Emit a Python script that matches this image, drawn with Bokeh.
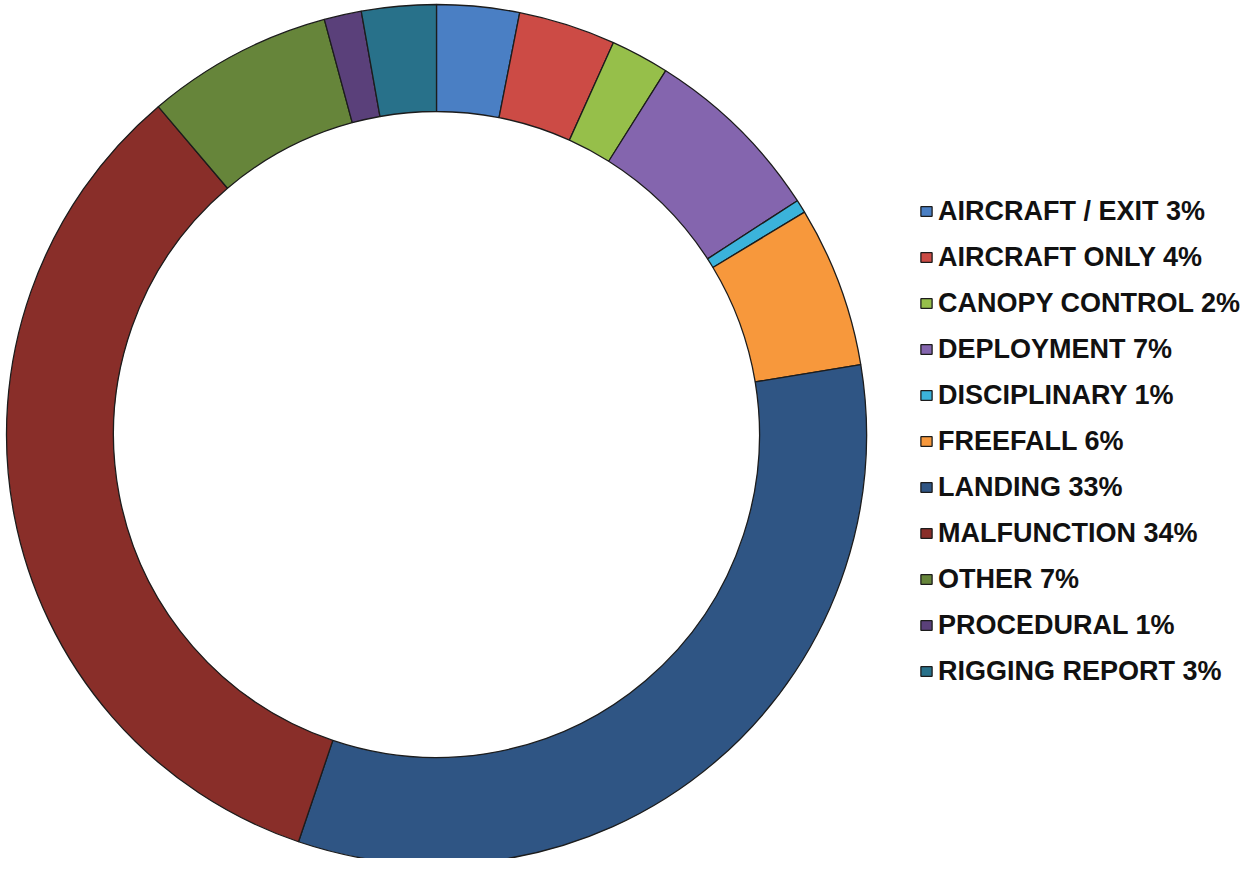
import numpy as np
from bokeh.plotting import figure
from bokeh.models import Range1d, ColumnDataSource, Legend, LegendItem
from bokeh.embed import file_html
from bokeh.resources import INLINE

# ---- data (share of incidents, clockwise from 12 o'clock) ----
categories = ["AIRCRAFT / EXIT", "AIRCRAFT ONLY", "CANOPY CONTROL", "DEPLOYMENT",
              "DISCIPLINARY", "FREEFALL", "LANDING", "MALFUNCTION", "OTHER",
              "PROCEDURAL", "RIGGING REPORT"]
values = [3.1, 3.65, 2.2, 6.9, 0.5, 6.05, 32.8, 33.6, 7.0, 1.4, 2.8]
pct_labels = ["3%", "4%", "2%", "7%", "1%", "6%", "33%", "34%", "7%", "1%", "3%"]
colors = ["#4a7fc4", "#cc4b45", "#96bf4a", "#8465ae", "#3bb3db", "#f7983c",
          "#2f5584", "#892e29", "#66853a", "#5a407a", "#28718a"]

W, H = 1243, 858
p = figure(width=W, height=H, x_range=Range1d(0, W), y_range=Range1d(0, H),
           output_backend="svg", toolbar_location=None, min_border=0)
p.axis.visible = False
p.grid.visible = False
p.outline_line_color = None
p.background_fill_color = "white"
p.border_fill_color = "white"

vals = np.array(values, dtype=float)
frac = vals / vals.sum()
cum = np.concatenate([[0.0], np.cumsum(frac)])
start = np.pi / 2 - 2 * np.pi * cum[:-1]
end = np.pi / 2 - 2 * np.pi * cum[1:]

cx, cy = 436, H - 434
src = ColumnDataSource(dict(start=start, end=end, color=colors,
                            label=[f"{c} {l}" for c, l in zip(categories, pct_labels)]))
r = p.annular_wedge(x=cx, y=cy, inner_radius=323, outer_radius=430,
                    start_angle="start", end_angle="end", direction="clock",
                    fill_color="color", line_color="#1c1c1c", line_width=1.3,
                    source=src)

items = [LegendItem(label=f"{c} {l}", renderers=[r], index=i)
         for i, (c, l) in enumerate(zip(categories, pct_labels))]
legend = Legend(items=items, location=(919, 164), orientation="vertical",
                label_text_font="Liberation Sans", label_text_font_style="bold",
                label_text_font_size="27px", label_text_color="#111111",
                label_height=46, glyph_height=12, glyph_width=14,
                label_standoff=5, spacing=0, padding=0, margin=0,
                border_line_alpha=0, background_fill_alpha=0)
p.add_layout(legend, "center")

open("out.html", "w").write(file_html(p, INLINE))
